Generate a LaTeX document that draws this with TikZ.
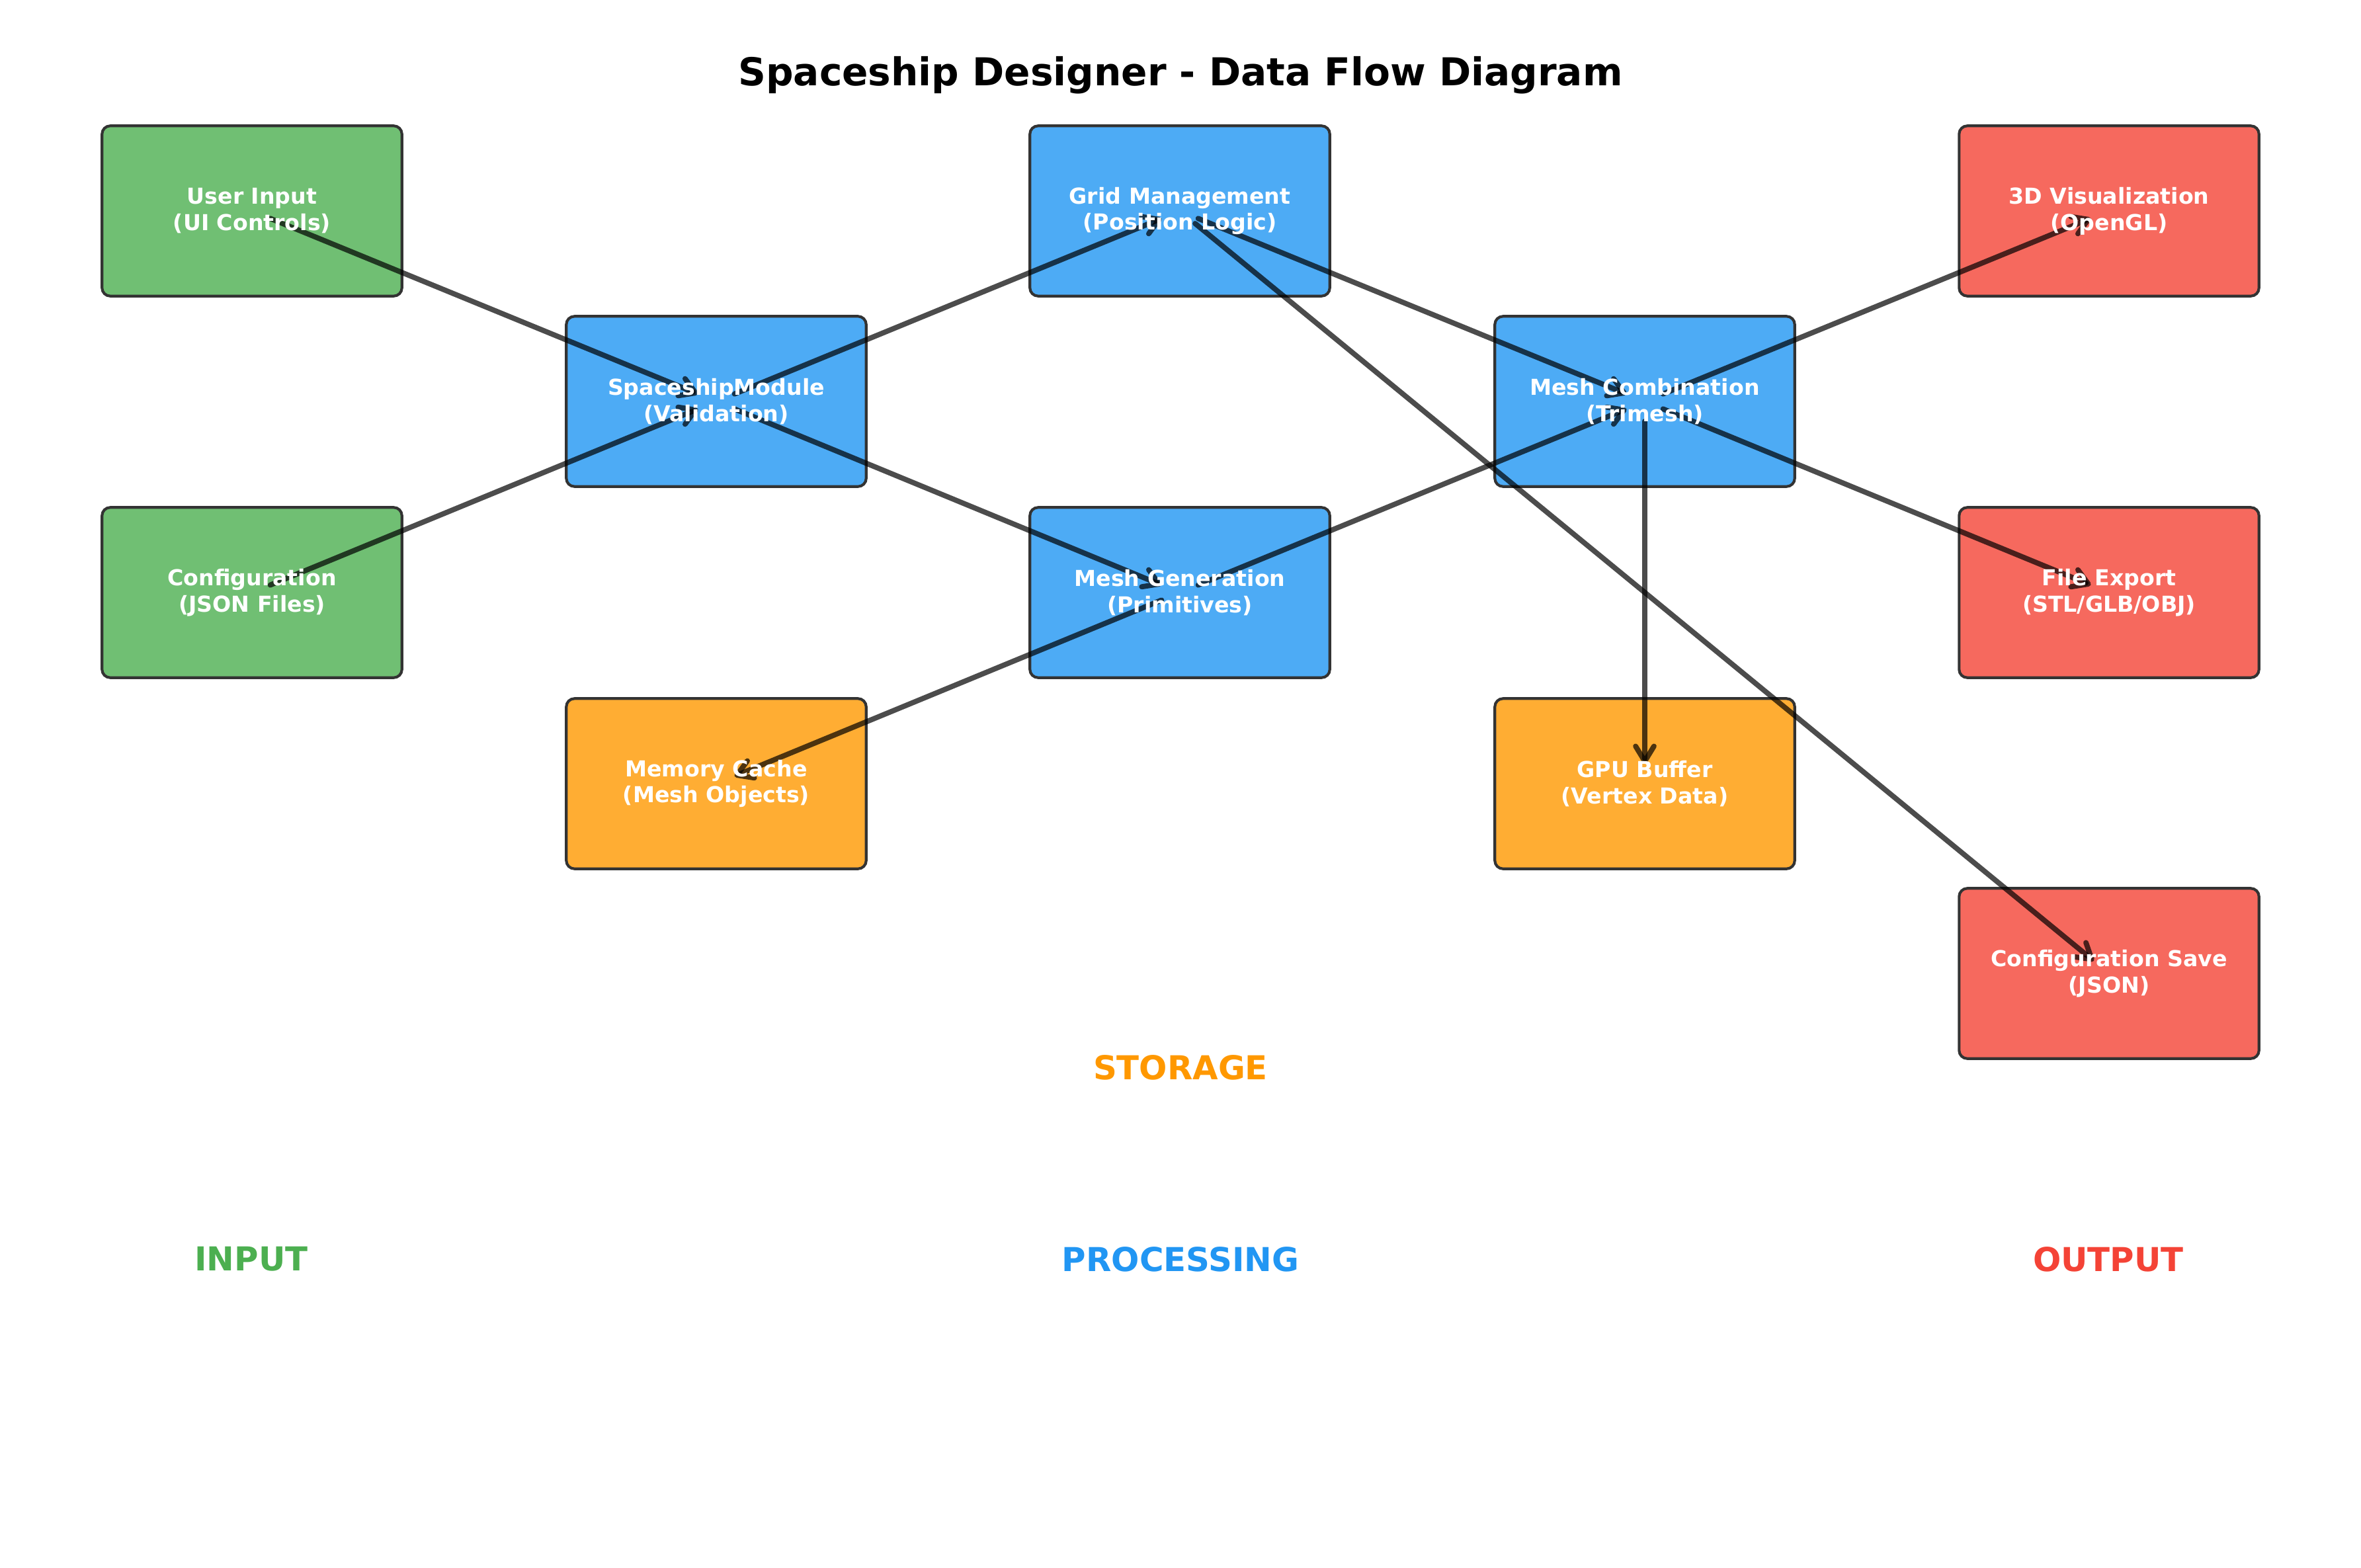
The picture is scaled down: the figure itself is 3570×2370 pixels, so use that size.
\documentclass[tikz,border=0pt]{standalone}
\usepackage{fontspec}
\setmainfont{DejaVu Sans}
\usetikzlibrary{arrows.meta}

\definecolor{inputfill}{HTML}{70BF73}
\definecolor{procfill}{HTML}{4DABF5}
\definecolor{storefill}{HTML}{FFAD33}
\definecolor{outfill}{HTML}{F6695E}
\definecolor{inputc}{HTML}{4CAF50}
\definecolor{procc}{HTML}{2196F3}
\definecolor{storec}{HTML}{FF9800}
\definecolor{outc}{HTML}{F44336}

\tikzset{
  box/.style={draw=black!80, line width=1pt, rounded corners=3pt,
    minimum width=3.84cm, minimum height=2.18cm, inner sep=0pt},
  boxtext/.style={text=white, font=\bfseries\fontsize{8}{9.6}\selectfont,
    align=center, inner sep=0pt},
  flow/.style={draw=black, draw opacity=0.7, line width=1.9pt, line cap=round,
    -{Straight Barb[length=5.5pt,width=6.7pt,round]},
    shorten <=7.2pt, shorten >=7.2pt},
  section/.style={font=\bfseries\fontsize{12}{14.4}\selectfont}
}

\begin{document}
\begin{tikzpicture}[x=0.008467cm, y=-0.008467cm]
\useasboundingbox (0,0) rectangle (3570,2370);

\node[font=\bfseries\fontsize{14}{16.8}\selectfont] (title) at (1785,114) {Spaceship Designer - Data Flow Diagram};

% boxes
\node[box, fill=inputfill] (user) at (381,319) {};
\node[box, fill=inputfill] (config) at (381,896) {};
\node[box, fill=procfill] (module) at (1083,607) {};
\node[box, fill=procfill] (grid) at (1784,319) {};
\node[box, fill=procfill] (meshgen) at (1784,896) {};
\node[box, fill=procfill] (meshcomb) at (2487,607) {};
\node[box, fill=storefill] (cache) at (1083,1185) {};
\node[box, fill=storefill] (gpu) at (2487,1185) {};
\node[box, fill=outfill] (vis) at (3189,319) {};
\node[box, fill=outfill] (export) at (3189,896) {};
\node[box, fill=outfill] (save) at (3189,1472) {};

% data flow
\foreach \a/\b in {user/module, config/module, module/grid, module/meshgen,
  grid/meshcomb, meshgen/meshcomb, meshgen/cache, meshcomb/vis,
  meshcomb/export, meshcomb/gpu, grid/save}
  \draw[flow] (\a.center) -- (\b.center);

% box texts
\node[boxtext] (user-t) at (user) {User Input\\(UI Controls)};
\node[boxtext] (config-t) at (config) {Configuration\\(JSON Files)};
\node[boxtext] (module-t) at (module) {SpaceshipModule\\(Validation)};
\node[boxtext] (grid-t) at (grid) {Grid Management\\(Position Logic)};
\node[boxtext] (meshgen-t) at (meshgen) {Mesh Generation\\(Primitives)};
\node[boxtext] (meshcomb-t) at (meshcomb) {Mesh Combination\\(Trimesh)};
\node[boxtext] (cache-t) at (cache) {Memory Cache\\(Mesh Objects)};
\node[boxtext] (gpu-t) at (gpu) {GPU Buffer\\(Vertex Data)};
\node[boxtext] (vis-t) at (vis) {3D Visualization\\(OpenGL)};
\node[boxtext] (export-t) at (export) {File Export\\(STL/GLB/OBJ)};
\node[boxtext] (save-t) at (save) {Configuration Save\\(JSON)};

% section labels
\node[section, text=storec] (storage) at (1785,1614) {STORAGE};
\node[section, text=inputc] (input) at (380,1904) {INPUT};
\node[section, text=procc] (processing) at (1785,1904) {PROCESSING};
\node[section, text=outc] (output) at (3188,1904) {OUTPUT};
\end{tikzpicture}
\end{document}
